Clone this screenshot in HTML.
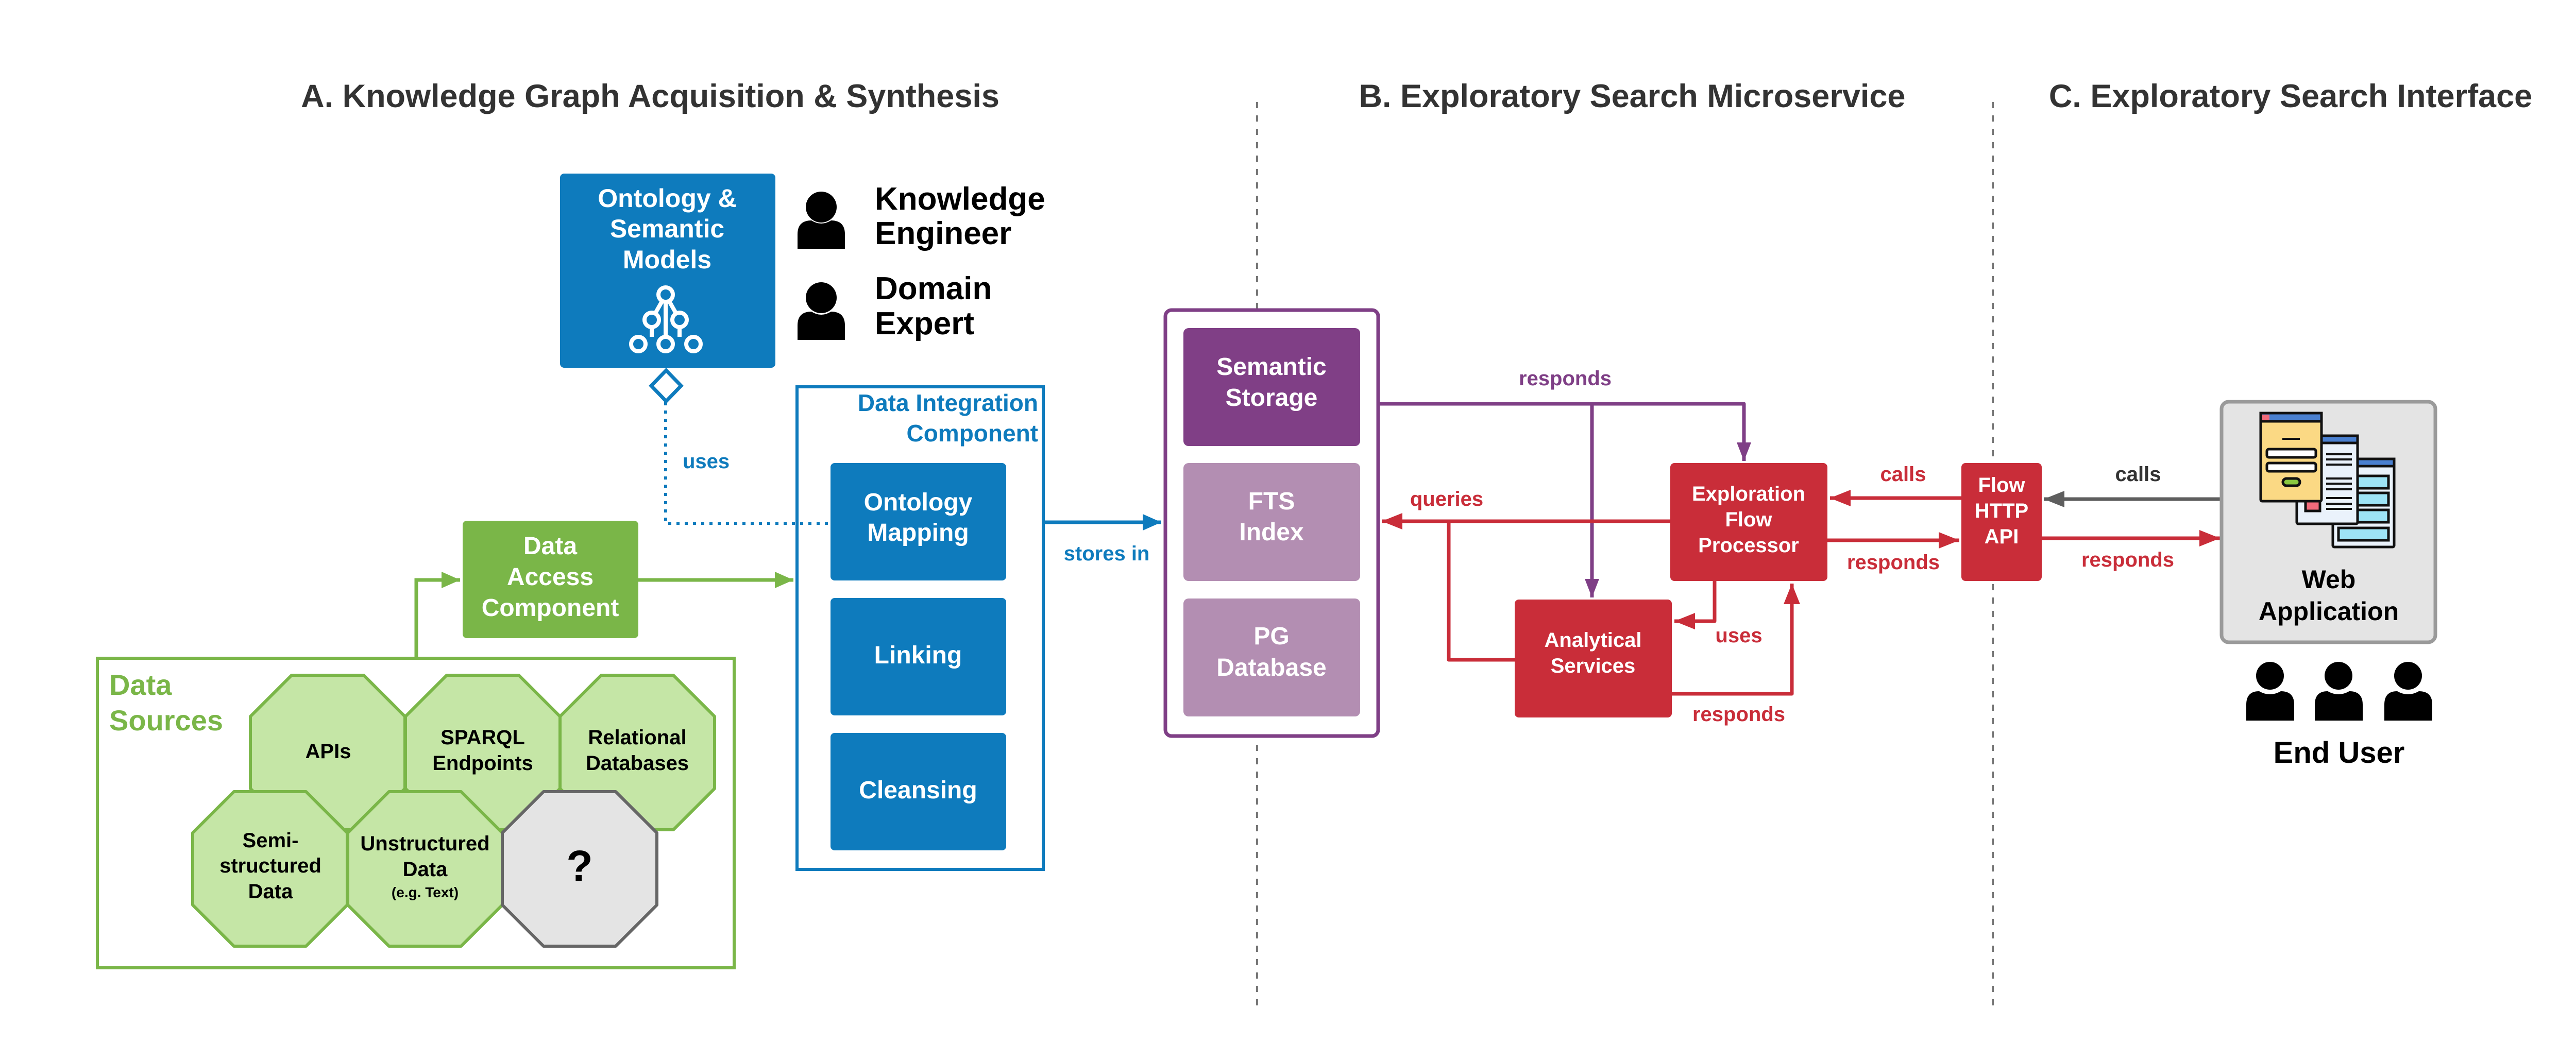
<!DOCTYPE html>
<html><head><meta charset="utf-8"><style>
html,body{margin:0;padding:0;background:#fff;}
svg{display:block;}
text{font-family:"Liberation Sans",Arial,sans-serif;font-weight:bold;}
</style></head><body>
<svg width="5063" height="2025" viewBox="0 0 5063 2025" xmlns="http://www.w3.org/2000/svg">
<defs>
<marker id="mG" markerUnits="userSpaceOnUse" markerWidth="40" markerHeight="40" refX="36" refY="16" orient="auto"><path d="M0,0 L36,16 L0,32 Z" fill="#7ab648"/></marker>
<marker id="mB" markerUnits="userSpaceOnUse" markerWidth="40" markerHeight="40" refX="36" refY="16" orient="auto"><path d="M0,0 L36,16 L0,32 Z" fill="#0e7bbd"/></marker>
<marker id="mP" markerUnits="userSpaceOnUse" markerWidth="40" markerHeight="40" refX="36" refY="14" orient="auto"><path d="M0,0 L36,14 L0,28 Z" fill="#7f3f86"/></marker>
<marker id="mR" markerUnits="userSpaceOnUse" markerWidth="44" markerHeight="40" refX="40" refY="16" orient="auto"><path d="M0,0 L40,16 L0,32 Z" fill="#c92d39"/></marker>
<marker id="mK" markerUnits="userSpaceOnUse" markerWidth="44" markerHeight="40" refX="40" refY="16" orient="auto"><path d="M0,0 L40,16 L0,32 Z" fill="#5e5e5e"/></marker>
</defs>

<text x="1262" y="208" font-size="63" fill="#333" text-anchor="middle">A. Knowledge Graph Acquisition &amp; Synthesis</text>
<text x="3168" y="208" font-size="63" fill="#333" text-anchor="middle">B. Exploratory Search Microservice</text>
<text x="4446" y="208" font-size="63" fill="#333" text-anchor="middle">C. Exploratory Search Interface</text>

<line x1="2440" y1="198" x2="2440" y2="1965" stroke="#777" stroke-width="4" stroke-dasharray="12,14"/>
<line x1="3868" y1="198" x2="3868" y2="1965" stroke="#777" stroke-width="4" stroke-dasharray="12,14"/>

<rect x="1087" y="337" width="418" height="377" rx="8" fill="#0e7bbd"/>
<g font-size="50" fill="#fff" text-anchor="middle">
<text x="1295" y="402">Ontology &amp;</text>
<text x="1295" y="461">Semantic</text>
<text x="1295" y="521">Models</text>
</g>
<g stroke="#fff" stroke-width="8" fill="none">
<line x1="1292" y1="585" x2="1292" y2="654"/>
<line x1="1265" y1="635" x2="1265" y2="654"/><line x1="1319" y1="635" x2="1319" y2="654"/>
<line x1="1285" y1="585" x2="1272" y2="608"/><line x1="1299" y1="585" x2="1312" y2="608"/>
<circle cx="1292" cy="572" r="14" fill="#0e7bbd"/>
<circle cx="1265" cy="621" r="14" fill="#0e7bbd"/><circle cx="1319" cy="621" r="14" fill="#0e7bbd"/>
<circle cx="1239" cy="668" r="14" fill="#0e7bbd"/><circle cx="1292" cy="668" r="14" fill="#0e7bbd"/><circle cx="1346" cy="668" r="14" fill="#0e7bbd"/>
</g>

<g fill="#000">
<circle cx="1594" cy="402" r="30"/><path d="M1548,483 L1548,455 Q1548,428 1575,428 Q1594,440 1613,428 Q1640,428 1640,455 L1640,483 Z"/>
<circle cx="1594" cy="578" r="30"/><path d="M1548,660 L1548,632 Q1548,605 1575,605 Q1594,617 1613,605 Q1640,605 1640,632 L1640,660 Z"/>
</g>
<g font-size="62" fill="#000">
<text x="1698" y="407">Knowledge</text><text x="1698" y="474">Engineer</text>
<text x="1698" y="581">Domain</text><text x="1698" y="649">Expert</text>
</g>

<polyline points="1292,781 1292,1016 1610,1016" fill="none" stroke="#0e7bbd" stroke-width="6" stroke-dasharray="6,10"/>
<polygon points="1293,719 1322,749 1293,779 1264,749" fill="#fff" stroke="#0e7bbd" stroke-width="7"/>
<text x="1325" y="909" font-size="40" fill="#0e7bbd">uses</text>

<rect x="1547" y="751" width="478" height="937" fill="none" stroke="#0e7bbd" stroke-width="6"/>
<text x="2015" y="798" font-size="46" fill="#0e7bbd" text-anchor="end">Data Integration</text>
<text x="2015" y="857" font-size="46" fill="#0e7bbd" text-anchor="end">Component</text>
<rect x="1612" y="899" width="341" height="228" rx="8" fill="#0e7bbd"/>
<rect x="1612" y="1161" width="341" height="228" rx="8" fill="#0e7bbd"/>
<rect x="1612" y="1423" width="341" height="228" rx="8" fill="#0e7bbd"/>
<g font-size="48" fill="#fff" text-anchor="middle">
<text x="1782" y="991">Ontology</text><text x="1782" y="1050">Mapping</text>
<text x="1782" y="1288">Linking</text>
<text x="1782" y="1550">Cleansing</text>
</g>

<rect x="898" y="1011" width="341" height="228" rx="8" fill="#7ab648"/>
<g font-size="48" fill="#fff" text-anchor="middle">
<text x="1068" y="1076">Data</text><text x="1068" y="1136">Access</text><text x="1068" y="1196">Component</text>
</g>
<line x1="1239" y1="1126" x2="1540" y2="1126" stroke="#7ab648" stroke-width="7" marker-end="url(#mG)"/>
<polyline points="808,1276 808,1126 893,1126" fill="none" stroke="#7ab648" stroke-width="7" marker-end="url(#mG)"/>

<rect x="189" y="1278" width="1236" height="601" fill="#fff" stroke="#7ab648" stroke-width="6"/>
<text x="212" y="1349" font-size="56" fill="#7ab648">Data</text>
<text x="212" y="1418" font-size="56" fill="#7ab648">Sources</text>
<g stroke-width="6" stroke-linejoin="round">
<polygon points="566,1311 706,1311 786,1391 786,1531 706,1611 566,1611 486,1531 486,1391" fill="#c5e6a6" stroke="#7ab648"/>
<polygon points="867,1311 1007,1311 1087,1391 1087,1531 1007,1611 867,1611 787,1531 787,1391" fill="#c5e6a6" stroke="#7ab648"/>
<polygon points="1167,1311 1307,1311 1387,1391 1387,1531 1307,1611 1167,1611 1087,1531 1087,1391" fill="#c5e6a6" stroke="#7ab648"/>
<polygon points="454,1537 594,1537 674,1617 674,1757 594,1837 454,1837 374,1757 374,1617" fill="#c5e6a6" stroke="#7ab648"/>
<polygon points="755,1537 895,1537 975,1617 975,1757 895,1837 755,1837 675,1757 675,1617" fill="#c5e6a6" stroke="#7ab648"/>
<polygon points="1055,1537 1195,1537 1275,1617 1275,1757 1195,1837 1055,1837 975,1757 975,1617" fill="#e4e4e4" stroke="#666"/>
</g>
<g font-size="40" fill="#000" text-anchor="middle">
<text x="637" y="1472">APIs</text>
<text x="937" y="1445">SPARQL</text><text x="937" y="1495">Endpoints</text>
<text x="1237" y="1445">Relational</text><text x="1237" y="1495">Databases</text>
<text x="525" y="1645">Semi-</text><text x="525" y="1694">structured</text><text x="525" y="1744">Data</text>
<text x="825" y="1651">Unstructured</text><text x="825" y="1701">Data</text>
<text x="825" y="1742" font-size="28">(e.g. Text)</text>
<text x="1125" y="1710" font-size="84">?</text>
</g>

<line x1="2025" y1="1014" x2="2254" y2="1014" stroke="#0e7bbd" stroke-width="7" marker-end="url(#mB)"/>
<text x="2148" y="1088" font-size="40" fill="#0e7bbd" text-anchor="middle">stores in</text>

<rect x="2262" y="602" width="413" height="827" rx="12" fill="#fff" stroke="#7f3f86" stroke-width="7"/>
<rect x="2297" y="637" width="343" height="229" rx="10" fill="#803f86"/>
<rect x="2297" y="899" width="343" height="229" rx="10" fill="#b38eb2"/>
<rect x="2297" y="1162" width="343" height="229" rx="10" fill="#b38eb2"/>
<g font-size="48" fill="#fff" text-anchor="middle">
<text x="2468" y="728">Semantic</text><text x="2468" y="788">Storage</text>
<text x="2468" y="989">FTS</text><text x="2468" y="1049">Index</text>
<text x="2468" y="1251">PG</text><text x="2468" y="1312">Database</text>
</g>

<polyline points="2678,784 3385,784 3385,895" fill="none" stroke="#7f3f86" stroke-width="7" stroke-linejoin="round" marker-end="url(#mP)"/>
<line x1="3090" y1="784" x2="3090" y2="1160" stroke="#7f3f86" stroke-width="7" marker-end="url(#mP)"/>
<text x="3038" y="748" font-size="40" fill="#7f3f86" text-anchor="middle">responds</text>

<rect x="3242" y="899" width="305" height="229" rx="8" fill="#c92d39"/>
<rect x="2940" y="1164" width="305" height="229" rx="8" fill="#c92d39"/>
<rect x="3807" y="899" width="156" height="229" rx="8" fill="#c92d39"/>
<g font-size="40" fill="#fff" text-anchor="middle">
<text x="3394" y="972">Exploration</text><text x="3394" y="1022">Flow</text><text x="3394" y="1072">Processor</text>
<text x="3092" y="1256">Analytical</text><text x="3092" y="1306">Services</text>
<text x="3885" y="955">Flow</text><text x="3885" y="1005">HTTP</text><text x="3885" y="1055">API</text>
</g>

<line x1="3242" y1="1012" x2="2682" y2="1012" stroke="#c92d39" stroke-width="7" marker-end="url(#mR)"/>
<polyline points="2940,1281 2812,1281 2812,1012" fill="none" stroke="#c92d39" stroke-width="7" stroke-linejoin="round"/>
<text x="2808" y="982" font-size="40" fill="#c92d39" text-anchor="middle">queries</text>
<polyline points="3328,1128 3328,1206 3250,1206" fill="none" stroke="#c92d39" stroke-width="7" stroke-linejoin="round" marker-end="url(#mR)"/>
<text x="3375" y="1247" font-size="40" fill="#c92d39" text-anchor="middle">uses</text>
<polyline points="3245,1347 3478,1347 3478,1133" fill="none" stroke="#c92d39" stroke-width="7" stroke-linejoin="round" marker-end="url(#mR)"/>
<text x="3375" y="1400" font-size="40" fill="#c92d39" text-anchor="middle">responds</text>
<line x1="3807" y1="967" x2="3552" y2="967" stroke="#c92d39" stroke-width="7" marker-end="url(#mR)"/>
<text x="3694" y="934" font-size="40" fill="#c92d39" text-anchor="middle">calls</text>
<line x1="3547" y1="1049" x2="3803" y2="1049" stroke="#c92d39" stroke-width="7" marker-end="url(#mR)"/>
<text x="3675" y="1105" font-size="40" fill="#c92d39" text-anchor="middle">responds</text>
<line x1="4312" y1="969" x2="3967" y2="969" stroke="#5e5e5e" stroke-width="7" marker-end="url(#mK)"/>
<text x="4150" y="934" font-size="40" fill="#333" text-anchor="middle">calls</text>
<line x1="3963" y1="1045" x2="4309" y2="1045" stroke="#c92d39" stroke-width="7" marker-end="url(#mR)"/>
<text x="4130" y="1100" font-size="40" fill="#c92d39" text-anchor="middle">responds</text>

<rect x="4312" y="780" width="415" height="467" rx="14" fill="#e4e4e4" stroke="#9a9a9a" stroke-width="7"/>
<g stroke="#111" stroke-width="5">
<rect x="4528" y="891" width="119" height="171" rx="3" fill="#eaf2fb"/>
<rect x="4528" y="891" width="119" height="14" fill="#4a80d0"/>
<rect x="4566" y="924" width="70" height="24" fill="#9ee3f5"/>
<rect x="4566" y="957" width="70" height="24" fill="#9ee3f5"/>
<rect x="4566" y="990" width="70" height="24" fill="#9ee3f5"/>
<rect x="4539" y="1025" width="97" height="24" fill="#9ee3f5"/>
<rect x="4458" y="846" width="118" height="171" rx="3" fill="#eaf2fb"/>
<rect x="4458" y="846" width="118" height="14" fill="#4a80d0"/>
<rect x="4475" y="972" width="28" height="20" fill="#f26a7a"/>
<rect x="4388" y="802" width="118" height="171" rx="3" fill="#fbd984"/>
<rect x="4388" y="802" width="118" height="16" fill="#4a80d0"/>
<rect x="4391" y="805" width="14" height="11" fill="#f26a7a" stroke="none"/>
<rect x="4400" y="872" width="95" height="16" rx="4" fill="#fff"/>
<rect x="4400" y="899" width="95" height="16" rx="4" fill="#fff"/>
<rect x="4431" y="929" width="33" height="14" rx="7" fill="#8ac840"/>
</g>
<g stroke="#111" stroke-width="4">
<line x1="4430" y1="852" x2="4464" y2="852"/>
<line x1="4515" y1="882" x2="4565" y2="882"/><line x1="4515" y1="892" x2="4565" y2="892"/><line x1="4515" y1="902" x2="4565" y2="902"/>
<line x1="4515" y1="929" x2="4565" y2="929"/><line x1="4515" y1="939" x2="4565" y2="939"/><line x1="4515" y1="950" x2="4565" y2="950"/>
<line x1="4515" y1="967" x2="4565" y2="967"/><line x1="4515" y1="978" x2="4565" y2="978"/><line x1="4515" y1="988" x2="4565" y2="988"/>
</g>
<text x="4520" y="1142" font-size="50" fill="#000" text-anchor="middle">Web</text>
<text x="4520" y="1204" font-size="50" fill="#000" text-anchor="middle">Application</text>

<g fill="#000">
<circle cx="4406" cy="1312" r="27"/><path d="M4360,1399 L4360,1368 Q4360,1342 4385,1342 Q4406,1354 4427,1342 Q4453,1342 4453,1368 L4453,1399 Z"/>
<circle cx="4539" cy="1312" r="27"/><path d="M4493,1399 L4493,1368 Q4493,1342 4518,1342 Q4539,1354 4560,1342 Q4586,1342 4586,1368 L4586,1399 Z"/>
<circle cx="4674" cy="1312" r="27"/><path d="M4628,1399 L4628,1368 Q4628,1342 4653,1342 Q4674,1354 4695,1342 Q4721,1342 4721,1368 L4721,1399 Z"/>
</g>
<text x="4540" y="1481" font-size="58" fill="#000" text-anchor="middle">End User</text>
</svg>
</body></html>
